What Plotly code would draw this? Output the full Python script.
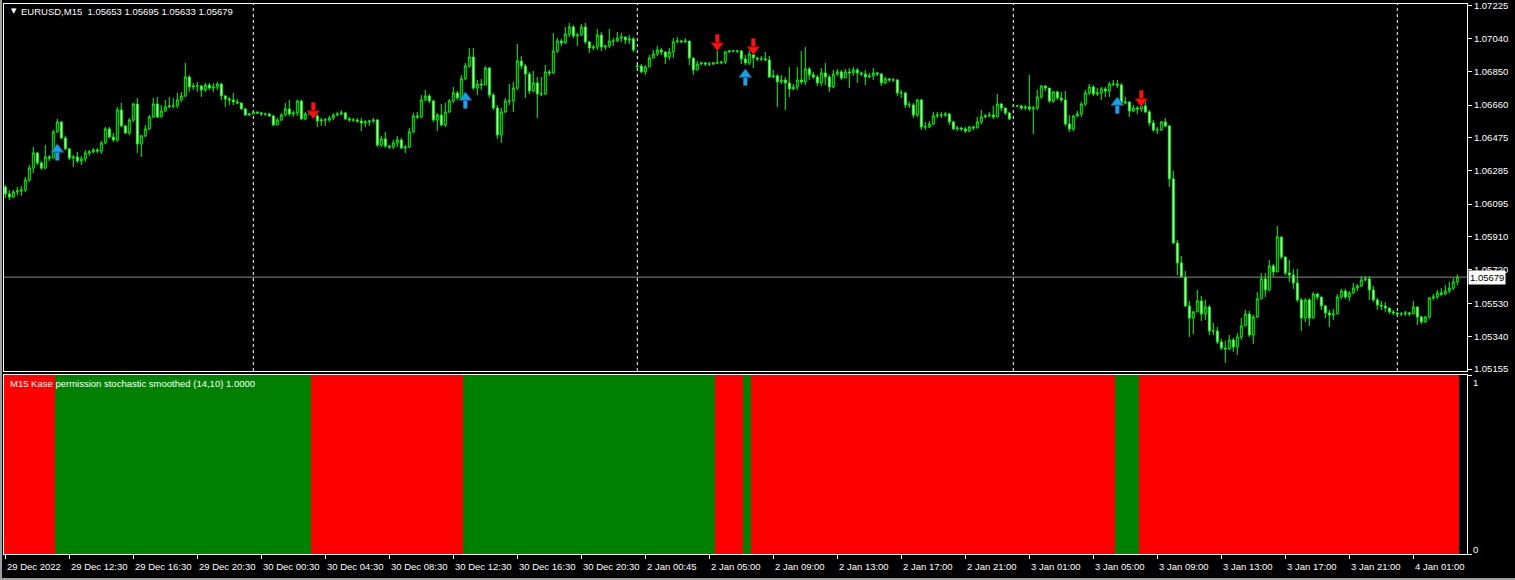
import plotly.graph_objects as go

# ---------------- data (EURUSD M15, 29 Dec 2022 08:30 -> 4 Jan 2023 03:45) ----------------
closes = [
1.06153,1.06136,1.06165,1.06170,1.06176,1.06233,1.06301,1.06387,1.06330,1.06301,
1.06364,1.06358,1.06507,1.06564,1.06472,1.06410,1.06358,1.06364,1.06341,1.06353,
1.06387,1.06393,1.06404,1.06398,1.06444,1.06524,1.06478,1.06461,1.06632,1.06541,
1.06501,1.06575,1.06666,1.06438,1.06484,1.06524,1.06592,1.06666,1.06592,1.06626,
1.06649,1.06655,1.06655,1.06689,1.06712,1.06820,1.06763,1.06769,1.06769,1.06746,
1.06774,1.06757,1.06763,1.06780,1.06712,1.06695,1.06689,1.06678,1.06672,1.06638,
1.06603,1.06609,1.06621,1.06615,1.06609,1.06609,1.06598,1.06546,1.06575,1.06603,
1.06638,1.06609,1.06615,1.06683,1.06581,1.06609,1.06615,1.06598,1.06569,1.06575,
1.06575,1.06586,1.06603,1.06609,1.06615,1.06581,1.06575,1.06575,1.06569,1.06558,
1.06564,1.06569,1.06575,1.06432,1.06467,1.06427,1.06421,1.06444,1.06461,1.06415,
1.06421,1.06507,1.06598,1.06592,1.06689,1.06712,1.06683,1.06575,1.06603,1.06546,
1.06621,1.06683,1.06729,1.06700,1.06809,1.06883,1.06934,1.06757,1.06780,1.06774,
1.06871,1.06717,1.06643,1.06489,1.06621,1.06683,1.06683,1.06757,1.06911,1.06883,
1.06837,1.06740,1.06786,1.06723,1.06723,1.06849,1.06843,1.06968,1.07025,1.07014,
1.07065,1.07105,1.07054,1.07059,1.07105,1.07020,1.06985,1.06991,1.07059,1.06991,
1.06997,1.07025,1.07025,1.07042,1.07048,1.07031,1.07037,1.06974,1.06883,1.06849,
1.06877,1.06928,1.06951,1.06974,1.06963,1.06934,1.06963,1.07020,1.07025,1.07020,
1.07025,1.06928,1.06860,1.06894,1.06900,1.06894,1.06894,1.06900,1.06900,1.06906,
1.06963,1.06968,1.06968,1.06968,1.06923,1.06900,1.06951,1.06928,1.06923,1.06923,
1.06917,1.06820,1.06826,1.06792,1.06803,1.06786,1.06752,1.06763,1.06803,1.06792,
1.06866,1.06832,1.06820,1.06786,1.06843,1.06820,1.06763,1.06837,1.06849,1.06814,
1.06849,1.06843,1.06860,1.06843,1.06837,1.06820,1.06826,1.06843,1.06837,1.06786,
1.06809,1.06803,1.06803,1.06729,1.06729,1.06660,1.06660,1.06603,1.06689,1.06535,
1.06535,1.06552,1.06598,1.06603,1.06603,1.06609,1.06564,1.06524,1.06529,1.06524,
1.06512,1.06535,1.06529,1.06564,1.06592,1.06598,1.06603,1.06592,1.06666,1.06643,
1.06615,1.06581,1.06655,1.06655,1.06643,1.06649,1.06638,1.06643,1.06706,1.06769,
1.06757,1.06683,1.06735,1.06700,1.06689,1.06552,1.06524,1.06598,1.06609,1.06666,
1.06729,1.06763,1.06723,1.06729,1.06752,1.06740,1.06780,1.06780,1.06774,1.06672,
1.06678,1.06626,1.06643,1.06638,1.06655,1.06621,1.06558,1.06518,1.06518,1.06564,
1.06541,1.06239,1.05874,1.05760,1.05680,1.05515,1.05446,1.05481,1.05543,1.05469,
1.05509,1.05372,1.05372,1.05310,1.05275,1.05270,1.05321,1.05281,1.05338,1.05401,
1.05469,1.05349,1.05452,1.05555,1.05669,1.05606,1.05743,1.05709,1.05908,1.05794,
1.05703,1.05691,1.05646,1.05549,1.05446,1.05549,1.05446,1.05583,1.05566,1.05515,
1.05475,1.05463,1.05469,1.05566,1.05600,1.05566,1.05589,1.05617,1.05629,1.05663,
1.05669,1.05606,1.05549,1.05520,1.05515,1.05503,1.05481,1.05475,1.05469,1.05469,
1.05475,1.05469,1.05509,1.05452,1.05424,1.05452,1.05560,1.05566,1.05589,1.05583,
1.05600,1.05617,1.05652,1.05679]

highs = [
1.06204,1.06176,1.06176,1.06193,1.06199,1.06250,1.06318,1.06421,1.06393,1.06341,
1.06432,1.06375,1.06518,1.06581,1.06564,1.06484,1.06415,1.06375,1.06393,1.06370,
1.06404,1.06404,1.06415,1.06415,1.06455,1.06535,1.06535,1.06501,1.06649,1.06672,
1.06546,1.06586,1.06672,1.06700,1.06489,1.06546,1.06603,1.06700,1.06706,1.06660,
1.06689,1.06706,1.06700,1.06729,1.06735,1.06900,1.06832,1.06786,1.06792,1.06774,
1.06786,1.06786,1.06786,1.06792,1.06786,1.06717,1.06706,1.06729,1.06695,1.06672,
1.06643,1.06615,1.06626,1.06621,1.06621,1.06615,1.06615,1.06603,1.06586,1.06615,
1.06672,1.06689,1.06626,1.06689,1.06689,1.06621,1.06626,1.06621,1.06609,1.06586,
1.06586,1.06598,1.06615,1.06621,1.06632,1.06621,1.06592,1.06586,1.06586,1.06586,
1.06575,1.06575,1.06586,1.06581,1.06484,1.06507,1.06432,1.06461,1.06484,1.06472,
1.06432,1.06529,1.06615,1.06621,1.06717,1.06746,1.06723,1.06689,1.06615,1.06666,
1.06672,1.06695,1.06763,1.06740,1.06832,1.06900,1.06985,1.06985,1.06803,1.06809,
1.06883,1.06877,1.06729,1.06660,1.06643,1.06700,1.06780,1.06792,1.07008,1.06940,
1.06894,1.06849,1.06854,1.06820,1.06820,1.06888,1.06860,1.07071,1.07042,1.07037,
1.07105,1.07128,1.07116,1.07071,1.07122,1.07128,1.07025,1.07002,1.07094,1.07077,
1.07002,1.07094,1.07042,1.07077,1.07071,1.07048,1.07059,1.07048,1.06888,1.06894,
1.06888,1.06946,1.06974,1.06997,1.06985,1.06963,1.06985,1.07042,1.07048,1.07031,
1.07042,1.07025,1.06928,1.06911,1.06906,1.06906,1.06906,1.06906,1.06985,1.06911,
1.06968,1.06974,1.06974,1.06974,1.06974,1.06946,1.06991,1.06980,1.06934,1.06940,
1.06963,1.06940,1.06860,1.06837,1.06832,1.06820,1.06877,1.06780,1.06877,1.06968,
1.06991,1.06877,1.06849,1.06832,1.06871,1.06900,1.06832,1.06860,1.06866,1.06860,
1.06866,1.06871,1.06877,1.06871,1.06849,1.06860,1.06843,1.06871,1.06849,1.06843,
1.06820,1.06814,1.06814,1.06809,1.06746,1.06735,1.06678,1.06672,1.06695,1.06695,
1.06564,1.06569,1.06621,1.06621,1.06621,1.06621,1.06615,1.06569,1.06541,1.06535,
1.06535,1.06541,1.06541,1.06592,1.06632,1.06609,1.06621,1.06655,1.06723,1.06672,
1.06638,1.06621,1.06660,1.06660,1.06660,1.06660,1.06832,1.06655,1.06746,1.06774,
1.06774,1.06757,1.06740,1.06740,1.06735,1.06740,1.06603,1.06603,1.06626,1.06678,
1.06746,1.06780,1.06774,1.06757,1.06763,1.06763,1.06792,1.06803,1.06803,1.06786,
1.06706,1.06672,1.06660,1.06655,1.06700,1.06683,1.06632,1.06575,1.06535,1.06569,
1.06586,1.06546,1.06284,1.05891,1.05800,1.05714,1.05543,1.05486,1.05606,1.05572,
1.05549,1.05520,1.05418,1.05395,1.05327,1.05315,1.05349,1.05332,1.05361,1.05446,
1.05492,1.05486,1.05463,1.05594,1.05703,1.05703,1.05777,1.05754,1.05971,1.05908,
1.05794,1.05777,1.05726,1.05726,1.05560,1.05560,1.05560,1.05594,1.05589,1.05560,
1.05520,1.05492,1.05498,1.05583,1.05612,1.05612,1.05600,1.05646,1.05640,1.05686,
1.05686,1.05686,1.05629,1.05560,1.05543,1.05537,1.05503,1.05492,1.05481,1.05481,
1.05486,1.05481,1.05543,1.05509,1.05458,1.05458,1.05566,1.05583,1.05606,1.05617,
1.05634,1.05652,1.05674,1.05695]

lows = [
1.06130,1.06119,1.06130,1.06147,1.06142,1.06165,1.06222,1.06273,1.06318,1.06290,
1.06296,1.06341,1.06364,1.06501,1.06467,1.06404,1.06347,1.06307,1.06330,1.06318,
1.06336,1.06370,1.06387,1.06387,1.06381,1.06438,1.06472,1.06450,1.06450,1.06535,
1.06495,1.06489,1.06564,1.06387,1.06364,1.06478,1.06518,1.06586,1.06586,1.06592,
1.06621,1.06643,1.06643,1.06643,1.06678,1.06706,1.06735,1.06746,1.06735,1.06706,
1.06735,1.06746,1.06735,1.06746,1.06689,1.06649,1.06660,1.06660,1.06666,1.06632,
1.06598,1.06598,1.06609,1.06609,1.06598,1.06598,1.06592,1.06541,1.06546,1.06569,
1.06598,1.06598,1.06592,1.06598,1.06575,1.06575,1.06603,1.06586,1.06535,1.06541,
1.06541,1.06564,1.06575,1.06598,1.06603,1.06575,1.06564,1.06564,1.06558,1.06512,
1.06535,1.06541,1.06558,1.06421,1.06421,1.06415,1.06410,1.06410,1.06421,1.06410,
1.06387,1.06415,1.06501,1.06581,1.06586,1.06683,1.06672,1.06564,1.06512,1.06541,
1.06535,1.06615,1.06672,1.06689,1.06723,1.06803,1.06871,1.06746,1.06717,1.06746,
1.06774,1.06700,1.06632,1.06467,1.06444,1.06615,1.06660,1.06621,1.06746,1.06866,
1.06700,1.06723,1.06735,1.06586,1.06712,1.06717,1.06826,1.06837,1.06957,1.06997,
1.07008,1.07048,1.07042,1.06997,1.07054,1.07008,1.06957,1.06974,1.06974,1.06968,
1.06974,1.06985,1.06997,1.07020,1.07020,1.07008,1.07008,1.06963,1.06871,1.06843,
1.06832,1.06906,1.06928,1.06940,1.06946,1.06894,1.06917,1.06928,1.07014,1.07014,
1.07014,1.06888,1.06832,1.06860,1.06888,1.06883,1.06883,1.06888,1.06894,1.06894,
1.06894,1.06957,1.06963,1.06957,1.06894,1.06888,1.06888,1.06871,1.06911,1.06911,
1.06911,1.06814,1.06814,1.06649,1.06780,1.06632,1.06706,1.06746,1.06746,1.06780,
1.06774,1.06803,1.06809,1.06769,1.06769,1.06774,1.06735,1.06757,1.06826,1.06803,
1.06814,1.06757,1.06826,1.06786,1.06826,1.06774,1.06814,1.06803,1.06826,1.06769,
1.06780,1.06792,1.06792,1.06712,1.06700,1.06643,1.06643,1.06586,1.06592,1.06518,
1.06518,1.06529,1.06546,1.06586,1.06586,1.06592,1.06546,1.06518,1.06512,1.06512,
1.06501,1.06507,1.06518,1.06529,1.06552,1.06586,1.06592,1.06581,1.06598,1.06626,
1.06603,1.06575,1.06649,1.06649,1.06632,1.06632,1.06626,1.06495,1.06632,1.06695,
1.06740,1.06672,1.06672,1.06689,1.06678,1.06541,1.06507,1.06512,1.06592,1.06592,
1.06655,1.06717,1.06712,1.06712,1.06689,1.06706,1.06706,1.06769,1.06757,1.06666,
1.06666,1.06592,1.06621,1.06609,1.06621,1.06615,1.06541,1.06507,1.06495,1.06512,
1.06535,1.06193,1.05868,1.05691,1.05680,1.05509,1.05338,1.05355,1.05486,1.05429,
1.05435,1.05349,1.05349,1.05298,1.05264,1.05190,1.05264,1.05253,1.05236,1.05321,
1.05401,1.05338,1.05298,1.05446,1.05555,1.05566,1.05600,1.05680,1.05709,1.05782,
1.05691,1.05652,1.05612,1.05537,1.05372,1.05424,1.05401,1.05446,1.05549,1.05492,
1.05446,1.05395,1.05435,1.05469,1.05555,1.05555,1.05543,1.05583,1.05600,1.05623,
1.05657,1.05549,1.05537,1.05492,1.05492,1.05481,1.05469,1.05463,1.05463,1.05458,
1.05458,1.05458,1.05469,1.05406,1.05412,1.05418,1.05441,1.05549,1.05555,1.05572,
1.05577,1.05589,1.05606,1.05633]

# opening price of the first bar of each trading session (other bars open at the prior close)
session_open = {0: 1.06193, 158: 1.06877, 252: 1.06655}
# bar index of the first bar of each new day (period separators)
day_start_bars = [62, 158, 252, 348]

# Kase permission stochastic state: run-length segments (1 = green/long, 0 = red/short)
perm_states = [0, 1, 0, 1, 0, 1, 0, 1, 0]
perm_lengths = [13, 64, 38, 63, 7, 2, 91, 6, 80]
perm_value = 1.0

# signal arrows (bar index, price)
up_arrow_bars = [13, 115, 185, 278]
up_arrow_prices = [1.06393, 1.06689, 1.06820, 1.06660]
down_arrow_bars = [77, 178, 187, 284]
down_arrow_prices = [1.06626, 1.07014, 1.06991, 1.06695]

# axis labels
price_ticks = [1.07225, 1.07040, 1.06850, 1.06660, 1.06475, 1.06285,
               1.06095, 1.05910, 1.05720, 1.05530, 1.05340, 1.05155]
time_label_bars = list(range(0, 353, 16))
time_labels = ["29 Dec 2022", "29 Dec 12:30", "29 Dec 16:30", "29 Dec 20:30",
               "30 Dec 00:30", "30 Dec 04:30", "30 Dec 08:30", "30 Dec 12:30",
               "30 Dec 16:30", "30 Dec 20:30", "2 Jan 00:45", "2 Jan 05:00",
               "2 Jan 09:00", "2 Jan 13:00", "2 Jan 17:00", "2 Jan 21:00",
               "3 Jan 01:00", "3 Jan 05:00", "3 Jan 09:00", "3 Jan 13:00",
               "3 Jan 17:00", "3 Jan 21:00", "4 Jan 01:00"]

symbol_title = "EURUSD,M15  1.05653 1.05695 1.05633 1.05679"
indicator_title = "M15 Kase permission stochastic smoothed (14,10) 1.0000"

# ---------------- build ----------------
n = len(closes)
idx = list(range(n))
opens = []
for i in range(n):
    opens.append(session_open[i] if i in session_open else closes[i - 1])
highs = [max(h, o, c) for h, o, c in zip(highs, opens, closes)]
lows = [min(l, o, c) for l, o, c in zip(lows, opens, closes)]

seg_x, seg_w, seg_c = [], [], []
start = 0
for s, ln in zip(perm_states, perm_lengths):
    seg_x.append(start + (ln - 1) / 2)
    seg_w.append(ln)
    seg_c.append("#008000" if s == 1 else "#FF0000")
    start += ln

W, H = 1515, 580
ML, MR, MT, MB = 4, 48, 4, 26
plot_h = H - MT - MB
plot_w = W - ML - MR
price_dom = [(554 - 371) / plot_h, 1.0]
ind_dom = [0.0, (554 - 375) / plot_h]
y_range = [1.05144, 1.07236]
x_range = [-0.325, 365.425]
px = (y_range[1] - y_range[0]) / ((price_dom[1] - price_dom[0]) * plot_h)

LIME = "#00FF00"
FONT = "Liberation Sans"
FS = 9.5

fig = go.Figure()
fig.add_trace(go.Candlestick(
    x=idx, open=opens, high=highs, low=lows, close=closes,
    increasing=dict(line=dict(color=LIME, width=1), fillcolor="#000000"),
    decreasing=dict(line=dict(color=LIME, width=1), fillcolor="#FFFFFF"),
    whiskerwidth=0, xaxis="x", yaxis="y", hoverinfo="skip", showlegend=False))

fig.add_trace(go.Bar(
    x=seg_x, y=[perm_value] * len(seg_x), width=seg_w,
    marker=dict(color=seg_c, line=dict(width=0)),
    xaxis="x2", yaxis="y2", hoverinfo="skip", showlegend=False))

# arrows: head (triangle) + shaft
BLUE, BLUE_D = "#1EA0E6", "#0B5E8E"
RED, RED_D = "#FF1010", "#7A0000"
fig.add_trace(go.Scatter(
    x=up_arrow_bars, y=[p - 3.0 * px for p in up_arrow_prices], mode="markers",
    marker=dict(symbol="line-ns", size=8, line=dict(color=BLUE, width=4)),
    xaxis="x", yaxis="y", hoverinfo="skip", showlegend=False))
fig.add_trace(go.Scatter(
    x=up_arrow_bars, y=[p + 2.5 * px for p in up_arrow_prices], mode="markers",
    marker=dict(symbol="triangle-up", size=11, color=BLUE, line=dict(color=BLUE_D, width=1)),
    xaxis="x", yaxis="y", hoverinfo="skip", showlegend=False))
fig.add_trace(go.Scatter(
    x=down_arrow_bars, y=[p + 3.0 * px for p in down_arrow_prices], mode="markers",
    marker=dict(symbol="line-ns", size=8, line=dict(color=RED, width=4)),
    xaxis="x", yaxis="y", hoverinfo="skip", showlegend=False))
fig.add_trace(go.Scatter(
    x=down_arrow_bars, y=[p - 2.5 * px for p in down_arrow_prices], mode="markers",
    marker=dict(symbol="triangle-down", size=11, color=RED, line=dict(color=RED_D, width=1)),
    xaxis="x", yaxis="y", hoverinfo="skip", showlegend=False))

shapes = []
for b in day_start_bars:
    shapes.append(dict(type="line", xref="x", yref="paper", x0=b, x1=b,
                       y0=price_dom[0], y1=price_dom[1],
                       line=dict(color="#FFFFFF", width=1, dash="3px,3px"), layer="below"))
shapes.append(dict(type="line", xref="paper", yref="y", x0=0, x1=1,
                   y0=closes[-1], y1=closes[-1], line=dict(color="#8C8C8C", width=1)))
# window frame (grey strips at the left and bottom edges)
shapes.append(dict(type="rect", xref="paper", yref="paper",
                   x0=-ML / plot_w, x1=(2 - ML) / plot_w, y0=-MB / plot_h, y1=1 + MT / plot_h,
                   fillcolor="#A0A0A0", line=dict(width=0)))
shapes.append(dict(type="rect", xref="paper", yref="paper",
                   x0=-ML / plot_w, x1=1 + MR / plot_w, y0=-MB / plot_h, y1=(2 - MB) / plot_h,
                   fillcolor="#A0A0A0", line=dict(width=0)))

annotations = []
for b, t in zip(time_label_bars, time_labels):
    annotations.append(dict(x=b, xref="x2", y=0, yref="paper", text=t, showarrow=False,
                            xanchor="left", yanchor="top", xshift=0, yshift=-5,
                            font=dict(family=FONT, size=FS, color="#FFFFFF")))
annotations.append(dict(x=1, xref="paper", y=closes[-1], yref="y", text=f"{closes[-1]:.5f}",
                        showarrow=False, xanchor="left", yanchor="middle", xshift=1,
                        bgcolor="#FFFFFF", borderpad=1,
                        font=dict(family=FONT, size=FS, color="#000000")))
annotations.append(dict(x=1, xref="paper", y=0.96, yref="y2", text="1", showarrow=False,
                        xanchor="left", yanchor="middle", xshift=4,
                        font=dict(family=FONT, size=FS, color="#FFFFFF")))
annotations.append(dict(x=1, xref="paper", y=0.025, yref="y2", text="0", showarrow=False,
                        xanchor="left", yanchor="middle", xshift=4,
                        font=dict(family=FONT, size=FS, color="#FFFFFF")))
annotations.append(dict(x=(9 - ML) / plot_w, xref="paper", y=(554 - 11) / plot_h, yref="paper",
                        text="▼", showarrow=False, xanchor="left", yanchor="middle",
                        font=dict(family="DejaVu Sans", size=7, color="#FFFFFF")))
annotations.append(dict(x=(19 - ML) / plot_w, xref="paper", y=(554 - 12) / plot_h, yref="paper",
                        text=symbol_title, showarrow=False, xanchor="left", yanchor="middle",
                        font=dict(family=FONT, size=FS, color="#FFFFFF")))
annotations.append(dict(x=(8 - ML) / plot_w, xref="paper", y=(554 - 383) / plot_h, yref="paper",
                        text=indicator_title, showarrow=False, xanchor="left", yanchor="middle",
                        font=dict(family=FONT, size=FS, color="#FFFFFF")))

axis_common = dict(showgrid=False, zeroline=False, showline=True, mirror=True,
                   linecolor="#FFFFFF", linewidth=1, automargin=False)

fig.update_layout(
    width=W, height=H, margin=dict(l=ML, r=MR, t=MT, b=MB, pad=0, autoexpand=False),
    paper_bgcolor="#000000", plot_bgcolor="#000000",
    showlegend=False, bargap=0, hovermode=False,
    xaxis=dict(domain=[0, 1], anchor="y", range=x_range, matches="x2",
               showticklabels=False, ticks="", rangeslider=dict(visible=False), **axis_common),
    yaxis=dict(domain=price_dom, anchor="x", range=y_range, side="right",
               tickvals=price_ticks, ticktext=[f"{v:.5f}" for v in price_ticks],
               ticks="outside", ticklen=4, tickcolor="#FFFFFF",
               tickfont=dict(family=FONT, size=FS, color="#FFFFFF"), **axis_common),
    xaxis2=dict(domain=[0, 1], anchor="y2", range=x_range,
                tickvals=time_label_bars, showticklabels=False,
                ticks="outside", ticklen=4, tickcolor="#FFFFFF", **axis_common),
    yaxis2=dict(domain=ind_dom, anchor="x2", range=[0, 1], side="right",
                tickvals=[0, 1], showticklabels=False,
                ticks="outside", ticklen=4, tickcolor="#FFFFFF", **axis_common),
    shapes=shapes, annotations=annotations,
)

fig.write_html("out.html", config={"displayModeBar": False},
               post_script="document.body.style.margin='0';document.body.style.background='#000';")
